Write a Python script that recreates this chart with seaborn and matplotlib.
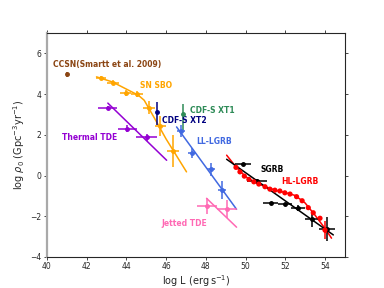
import matplotlib
matplotlib.use("Agg")
import matplotlib.pyplot as plt
import seaborn as sns

# CCSN
ccsn_x = [41.0]
ccsn_y = [4.97]

# SN SBO
sbo_x = [42.72, 43.34, 43.96, 44.52, 45.14, 45.72, 46.36]
sbo_y = [4.79, 4.56, 4.07, 4.02, 3.34, 2.44, 1.20]
sbo_xerr = [0.25, 0.3, 0.3, 0.3, 0.3, 0.3, 0.3]
sbo_yerr = [0.1, 0.12, 0.15, 0.15, 0.3, 0.5, 0.8]
sbo_line_x = [42.5, 43.3, 44.0, 44.6, 44.9, 45.4, 46.0, 47.03]
sbo_line_y = [4.85, 4.6, 4.25, 3.95, 3.7, 2.85, 1.8, 0.18]

# Thermal TDE
ttde_x = [43.06, 44.04, 45.02]
ttde_y = [3.34, 2.31, 1.87]
ttde_xerr = [0.48, 0.48, 0.55]
ttde_yerr = [0.1, 0.15, 0.15]
ttde_line_x = [43.07, 46.03]
ttde_line_y = [3.56, 0.75]

# CDF-S XT2 / XT1
xt2_x, xt2_y = [45.52], [3.12]
xt2_yerr = [[0.65], [0.5]]
xt1_x, xt1_y = [46.86], [3.0]
xt1_yerr = [[0.75], [0.5]]

# LL-LGRB
ll_x = [46.75, 47.32, 48.24, 48.80]
ll_y = [2.18, 1.11, 0.30, -0.72]
ll_xerr = [0.2, 0.2, 0.2, 0.2]
ll_yerr = [0.3, 0.25, 0.3, 0.45]
ll_line_x = [46.53, 49.55]
ll_line_y = [2.39, -1.66]

# Jetted TDE
jtde_x = [48.04, 49.05]
jtde_y = [-1.50, -1.65]
jtde_xerr = [0.5, 0.5]
jtde_yerr = [0.4, 0.45]
jtde_line_x = [48.04, 49.55]
jtde_line_y = [-1.12, -2.54]

# HL-LGRB
hl_x = [49.52, 49.72, 49.94, 50.17, 50.42, 50.67, 50.98, 51.23, 51.48,
        51.73, 51.98, 52.24, 52.57, 52.85, 53.16, 53.41, 53.75, 54.0]
hl_y = [0.40, 0.18, -0.03, -0.19, -0.31, -0.42, -0.55, -0.67, -0.72,
        -0.76, -0.85, -0.91, -1.04, -1.24, -1.58, -1.83, -2.10, -2.68]
hl_line_x = [49.05, 49.5, 50.0, 50.5, 51.0, 51.5, 52.0, 52.5, 53.0, 53.5, 54.0, 54.33]
hl_line_y = [1.0, 0.45, -0.05, -0.35, -0.55, -0.72, -0.84, -0.98, -1.35, -1.95, -2.6, -3.08]

# SGRB
sg_x = [49.88, 50.56, 51.26, 51.98, 52.65, 53.36, 54.08]
sg_y = [0.59, -0.26, -1.37, -1.42, -1.61, -2.15, -2.64]
sg_xerr = [0.4, 0.5, 0.4, 0.35, 0.35, 0.35, 0.4]
sg_yerr = [0.05, 0.08, 0.08, 0.08, 0.15, 0.4, 0.6]
sg_line_x = [49.05, 54.42]
sg_line_y = [0.80, -2.92]

sns.set_style("ticks")
fig = plt.figure(figsize=(3.84, 2.88), dpi=100)
ax = fig.add_axes([0.122, 0.108, 0.776, 0.777])

def line(x, y, c):
    sns.lineplot(x=x, y=y, color=c, lw=1.1, ax=ax, sort=False, zorder=2)

line(sbo_line_x, sbo_line_y, "orange")
line(ttde_line_x, ttde_line_y, "darkviolet")
line(ll_line_x, ll_line_y, "royalblue")
line(jtde_line_x, jtde_line_y, "hotpink")
line(hl_line_x, hl_line_y, "red")
line(sg_line_x, sg_line_y, "black")

kw = dict(fmt="o", ms=2.5, elinewidth=1.1, capsize=0, zorder=3)
ax.errorbar(ccsn_x, ccsn_y, yerr=0.12, color="saddlebrown", **kw)
ax.errorbar(sbo_x, sbo_y, xerr=sbo_xerr, yerr=sbo_yerr, color="orange", **kw)
ax.errorbar(ttde_x, ttde_y, xerr=ttde_xerr, yerr=ttde_yerr, color="darkviolet", **kw)
ax.errorbar(xt2_x, xt2_y, yerr=xt2_yerr, color="navy", **kw)
ax.errorbar(xt1_x, xt1_y, yerr=xt1_yerr, color="seagreen", **kw)
ax.errorbar(ll_x, ll_y, xerr=ll_xerr, yerr=ll_yerr, color="royalblue", **kw)
ax.errorbar(jtde_x, jtde_y, xerr=jtde_xerr, yerr=jtde_yerr, color="hotpink", **kw)
sns.scatterplot(x=hl_x, y=hl_y, color="red", s=14, edgecolor="none", ax=ax, zorder=4)
ax.errorbar(hl_x[-1:], hl_y[-1:], yerr=0.45, color="red", **kw)
ax.errorbar(sg_x, sg_y, xerr=sg_xerr, yerr=sg_yerr, color="black", **kw)

tkw = dict(fontsize=5.5, fontweight="bold")
ax.text(40.3, 5.35, "CCSN(Smartt et al. 2009)", color="saddlebrown", **tkw)
ax.text(44.7, 4.3, "SN SBO", color="orange", **tkw)
ax.text(47.2, 3.05, "CDF-S XT1", color="seagreen", **tkw)
ax.text(45.8, 2.6, "CDF-S XT2", color="navy", **tkw)
ax.text(40.75, 1.75, "Thermal TDE", color="darkviolet", **tkw)
ax.text(47.5, 1.55, "LL-LGRB", color="royalblue", **tkw)
ax.text(50.78, 0.15, "SGRB", color="black", **tkw)
ax.text(51.8, -0.4, "HL-LGRB", color="red", **tkw)
ax.text(45.75, -2.5, "Jetted TDE", color="hotpink", **tkw)

ax.set_xlim(40, 55)
ax.set_ylim(-4, 7)
ax.set_xticks(range(40, 55, 2))
ax.set_yticks(range(-4, 7, 2))
ax.tick_params(labelsize=5.5, length=2.5, width=0.6, pad=1.5, top=True, right=True)
for s in ["top", "right", "bottom"]:
    ax.spines[s].set_linewidth(0.8)
ax.spines["left"].set_color("darkgray")
ax.spines["left"].set_linewidth(1.6)
ax.set_xlabel(r"log L (erg$\,$s$^{-1}$)", fontsize=7, labelpad=1)
ax.set_ylabel(r"log $\rho_0$ (Gpc$^{-3}$yr$^{-1}$)", fontsize=7, labelpad=2)

fig.savefig("out.png", dpi=100)
